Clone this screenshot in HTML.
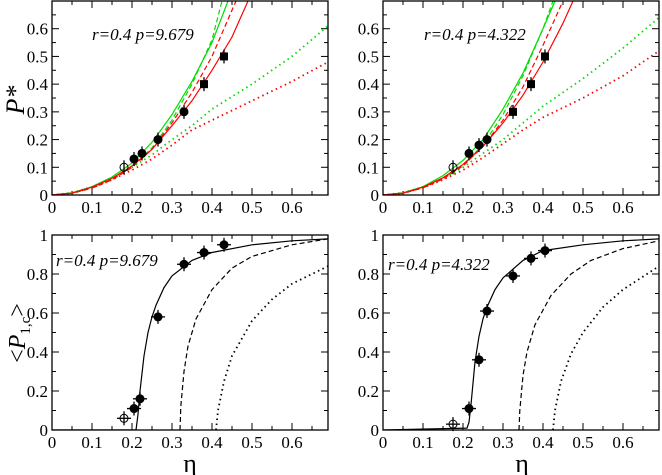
<!DOCTYPE html>
<html><head><meta charset="utf-8"><style>
body{margin:0;background:#fff}
svg{display:block;font-family:"Liberation Serif",serif}
</style></head><body>
<svg id="c" width="662" height="475"></svg>
<script>
// ---------- data ----------
const topLeftPoints = [[0.18,0.10,'o'],[0.205,0.13,'c'],[0.225,0.15,'c'],[0.265,0.20,'c'],[0.33,0.30,'c'],[0.38,0.40,'s'],[0.43,0.50,'s']];
const topRightPoints = [[0.175,0.10,'o'],[0.215,0.15,'c'],[0.24,0.18,'c'],[0.26,0.20,'c'],[0.325,0.30,'s'],[0.37,0.40,'s'],[0.405,0.50,'s']];
const botLeftPoints = [[0.18,0.06,'o'],[0.205,0.11,'c'],[0.22,0.16,'c'],[0.265,0.58,'c'],[0.33,0.85,'c'],[0.38,0.91,'c'],[0.43,0.95,'c']];
const botRightPoints = [[0.175,0.03,'o'],[0.215,0.11,'c'],[0.24,0.36,'c'],[0.26,0.61,'c'],[0.325,0.79,'c'],[0.37,0.88,'c'],[0.405,0.92,'c']];

const tlGreenSolid = [[0,0],[0.05,0.008],[0.1,0.03],[0.15,0.065],[0.2,0.115],[0.25,0.19],[0.3,0.29],[0.35,0.41],[0.4,0.55],[0.44,0.7]];
const tlGreenDash = [[0,0],[0.05,0.006],[0.1,0.025],[0.15,0.055],[0.2,0.1],[0.25,0.17],[0.3,0.27],[0.35,0.4],[0.4,0.56],[0.425,0.7]];
const tlRedDash = [[0,0],[0.05,0.006],[0.1,0.025],[0.15,0.055],[0.2,0.1],[0.25,0.165],[0.3,0.26],[0.35,0.37],[0.4,0.5],[0.46,0.7]];
const tlRedSolid = [[0,0],[0.05,0.007],[0.1,0.028],[0.15,0.06],[0.2,0.105],[0.25,0.165],[0.3,0.25],[0.35,0.34],[0.4,0.45],[0.45,0.57],[0.49,0.7]];
const tlGreenDot = [[0,0],[0.05,0.008],[0.1,0.03],[0.15,0.06],[0.2,0.1],[0.25,0.145],[0.3,0.2],[0.35,0.25],[0.4,0.31],[0.5,0.4],[0.6,0.5],[0.69,0.61]];
const tlRedDot = [[0,0],[0.05,0.007],[0.1,0.026],[0.15,0.055],[0.2,0.09],[0.25,0.13],[0.3,0.18],[0.35,0.235],[0.4,0.27],[0.5,0.34],[0.6,0.41],[0.69,0.48]];

const trGreenSolid = [[0,0],[0.05,0.008],[0.1,0.03],[0.15,0.07],[0.2,0.125],[0.25,0.2],[0.3,0.31],[0.35,0.44],[0.4,0.6],[0.43,0.7]];
const trGreenDash = [[0,0],[0.05,0.006],[0.1,0.026],[0.15,0.058],[0.2,0.11],[0.25,0.18],[0.3,0.29],[0.35,0.43],[0.4,0.6],[0.425,0.7]];
const trRedDash = [[0,0],[0.05,0.006],[0.1,0.026],[0.15,0.058],[0.2,0.105],[0.25,0.175],[0.3,0.27],[0.35,0.39],[0.4,0.54],[0.45,0.7]];
const trRedSolid = [[0,0],[0.05,0.007],[0.1,0.028],[0.15,0.062],[0.2,0.11],[0.25,0.175],[0.3,0.26],[0.35,0.36],[0.4,0.48],[0.45,0.62],[0.475,0.7]];
const trGreenDot = [[0,0],[0.05,0.008],[0.1,0.03],[0.15,0.06],[0.2,0.1],[0.25,0.15],[0.3,0.2],[0.35,0.26],[0.4,0.32],[0.5,0.42],[0.6,0.53],[0.69,0.64]];
const trRedDot = [[0,0],[0.05,0.007],[0.1,0.026],[0.15,0.055],[0.2,0.09],[0.25,0.135],[0.3,0.185],[0.35,0.235],[0.4,0.28],[0.5,0.35],[0.6,0.43],[0.69,0.52]];

const blSolid = [[0,0],[0.21,0],[0.215,0.08],[0.22,0.2],[0.23,0.38],[0.24,0.5],[0.25,0.58],[0.26,0.64],[0.28,0.73],[0.3,0.79],[0.35,0.87],[0.4,0.91],[0.5,0.95],[0.6,0.97],[0.69,0.98]];
const blDash = [[0.32,0],[0.322,0.12],[0.33,0.3],[0.34,0.43],[0.36,0.57],[0.4,0.72],[0.45,0.83],[0.5,0.89],[0.6,0.95],[0.69,0.98]];
const blDot = [[0.41,0],[0.415,0.1],[0.43,0.25],[0.45,0.38],[0.5,0.56],[0.55,0.67],[0.6,0.75],[0.69,0.84]];
const brSolid = [[0,0],[0.21,0.01],[0.215,0.04],[0.22,0.13],[0.23,0.35],[0.24,0.48],[0.25,0.57],[0.26,0.63],[0.28,0.72],[0.3,0.78],[0.35,0.87],[0.4,0.92],[0.5,0.95],[0.6,0.97],[0.69,0.98]];
const brDash = [[0.34,0],[0.342,0.1],[0.35,0.28],[0.36,0.4],[0.38,0.54],[0.42,0.69],[0.47,0.8],[0.52,0.87],[0.6,0.93],[0.69,0.97]];
const brDot = [[0.425,0],[0.43,0.1],[0.445,0.25],[0.47,0.39],[0.5,0.5],[0.55,0.63],[0.6,0.72],[0.69,0.84]];

const xTicks = [0,0.1,0.2,0.3,0.4,0.5,0.6];
const topYTicks = [0,0.1,0.2,0.3,0.4,0.5,0.6];
const botYTicks = [0,0.2,0.4,0.6,0.8,1];

// ---------- drawing ----------
const svg = document.getElementById('c');
const NS = 'http://www.w3.org/2000/svg';
function mk(tag, attrs, parent){const e=document.createElementNS(NS,tag);for(const k in attrs)e.setAttribute(k,attrs[k]);(parent||svg).appendChild(e);return e;}

function panel(name, x0, yTop, yBot, ymax, yTicks, yMinor, text, textPos, curves, points, errX){
  const xmax=0.69, W=x0+276;
  const sx=v=>x0+v*400, sy=v=>yBot-(v/ymax)*(yBot-yTop);
  const g=mk('g',{});
  
  
  const clip=mk('clipPath',{id:'cl-'+name},g);
  mk('rect',{x:x0,y:yTop,width:276,height:yBot-yTop},clip);
  for(let v=0; v<=xmax+1e-9; v+=0.05){
    const major=Math.abs(v*10-Math.round(v*10))<1e-6, L=major?7:4, X=sx(v);
    mk('line',{x1:X,y1:yBot,x2:X,y2:yBot-L,stroke:'#000','stroke-width':1},g);
    mk('line',{x1:X,y1:yTop,x2:X,y2:yTop+L,stroke:'#000','stroke-width':1},g);
  }
  for(let v=0; v<=ymax+1e-9; v+=yMinor){
    const major=yTicks.some(t=>Math.abs(t-v)<1e-6), L=major?7:4, Y=sy(v);
    mk('line',{x1:x0,y1:Y,x2:x0+L,y2:Y,stroke:'#000','stroke-width':1},g);
    mk('line',{x1:W,y1:Y,x2:W-L,y2:Y,stroke:'#000','stroke-width':1},g);
  }
  xTicks.forEach(v=>{const t=mk('text',{x:sx(v),y:yBot+18,'font-size':17,'text-anchor':'middle'},g);t.textContent=String(v);
    });
  yTicks.forEach(v=>{const t=mk('text',{x:x0-4,y:sy(v)+6,'font-size':17,'text-anchor':'end'},g);t.textContent=String(v);
    });
  const cg=mk('g',{'clip-path':'url(#cl-'+name+')'},g);
  curves.forEach(c=>{
    const d=c.data.map((p,i)=>(i?'L':'M')+sx(p[0]).toFixed(1)+' '+sy(p[1]).toFixed(1)).join(' ');
    const e=mk('path',{d:d,fill:'none',stroke:c.color,'stroke-width':c.dash==='dot'?1.8:1.2,'stroke-dasharray':c.dash==='dash'?'5 3':c.dash==='dot'?'1.5 3.5':'none'},cg);
    
    
  });
  points.forEach(p=>{
    const X=sx(p[0]),Y=sy(p[1]);
    const pg=mk('g',{},g);
    
    
    mk('line',{x1:X,y1:Y-7,x2:X,y2:Y+7,stroke:'#000','stroke-width':1.3},pg);
    if(errX) mk('line',{x1:X-7,y1:Y,x2:X+7,y2:Y,stroke:'#000','stroke-width':1.3},pg);
    if(p[2]==='s') mk('rect',{x:X-4,y:Y-4,width:8,height:8,fill:'#000'},pg);
    else if(p[2]==='o') mk('circle',{cx:X,cy:Y,r:4,fill:'none',stroke:'#000','stroke-width':1},pg);
    else mk('circle',{cx:X,cy:Y,r:4.5,fill:'#000'},pg);
  });
  mk('rect',{x:x0,y:yTop,width:276,height:yBot-yTop,fill:'none',stroke:'#000','stroke-width':1.3},g);
  const t=mk('text',{x:textPos[0],y:textPos[1],'font-size':17,'font-style':'italic'},g);
  t.textContent=text;
  
  
}

panel('panel-top-left',52,1,195,0.7,topYTicks,0.05,'r=0.4 p=9.679',[92,40],[
 {data:tlGreenDot,color:'#00dd00',dash:'dot',name:'green-dotted-curve'},
 {data:tlRedDot,color:'#ff0000',dash:'dot',name:'red-dotted-curve'},
 {data:tlGreenSolid,color:'#00dd00',dash:'none',name:'green-solid-curve'},
 {data:tlGreenDash,color:'#00dd00',dash:'dash',name:'green-dashed-curve'},
 {data:tlRedDash,color:'#ff0000',dash:'dash',name:'red-dashed-curve'},
 {data:tlRedSolid,color:'#ff0000',dash:'none',name:'red-solid-curve'}],topLeftPoints,false);
panel('panel-top-right',383,1,195,0.7,topYTicks,0.05,'r=0.4 p=4.322',[424,40],[
 {data:trGreenDot,color:'#00dd00',dash:'dot',name:'green-dotted-curve'},
 {data:trRedDot,color:'#ff0000',dash:'dot',name:'red-dotted-curve'},
 {data:trGreenSolid,color:'#00dd00',dash:'none',name:'green-solid-curve'},
 {data:trGreenDash,color:'#00dd00',dash:'dash',name:'green-dashed-curve'},
 {data:trRedDash,color:'#ff0000',dash:'dash',name:'red-dashed-curve'},
 {data:trRedSolid,color:'#ff0000',dash:'none',name:'red-solid-curve'}],topRightPoints,false);
panel('panel-bottom-left',52,235,430,1,botYTicks,0.1,'r=0.4 p=9.679',[56,266],[
 {data:blSolid,color:'#000',dash:'none',name:'solid-curve'},
 {data:blDash,color:'#000',dash:'dash',name:'dashed-curve'},
 {data:blDot,color:'#000',dash:'dot',name:'dotted-curve'}],botLeftPoints,true);
panel('panel-bottom-right',383,235,430,1,botYTicks,0.1,'r=0.4 p=4.322',[388,270],[
 {data:brSolid,color:'#000',dash:'none',name:'solid-curve'},
 {data:brDash,color:'#000',dash:'dash',name:'dashed-curve'},
 {data:brDot,color:'#000',dash:'dot',name:'dotted-curve'}],botRightPoints,true);
</script>
<svg width="662" height="475" style="position:absolute;left:0;top:0">
 <text x="24" y="100" font-family="Liberation Serif" font-size="26" font-style="italic" transform="rotate(-90 24 100)" text-anchor="middle">P*</text>
 <text x="25" y="333" font-family="Liberation Serif" font-size="24" transform="rotate(-90 25 333)" text-anchor="middle">&lt;<tspan font-style="italic">P</tspan><tspan font-size="15" dy="5">1,c</tspan><tspan dy="-5">&gt;</tspan></text>
 <text x="190" y="472" font-family="Liberation Serif" font-size="26" text-anchor="middle">η</text>
 <text x="522" y="472" font-family="Liberation Serif" font-size="26" text-anchor="middle">η</text>
</svg>
</body></html>
